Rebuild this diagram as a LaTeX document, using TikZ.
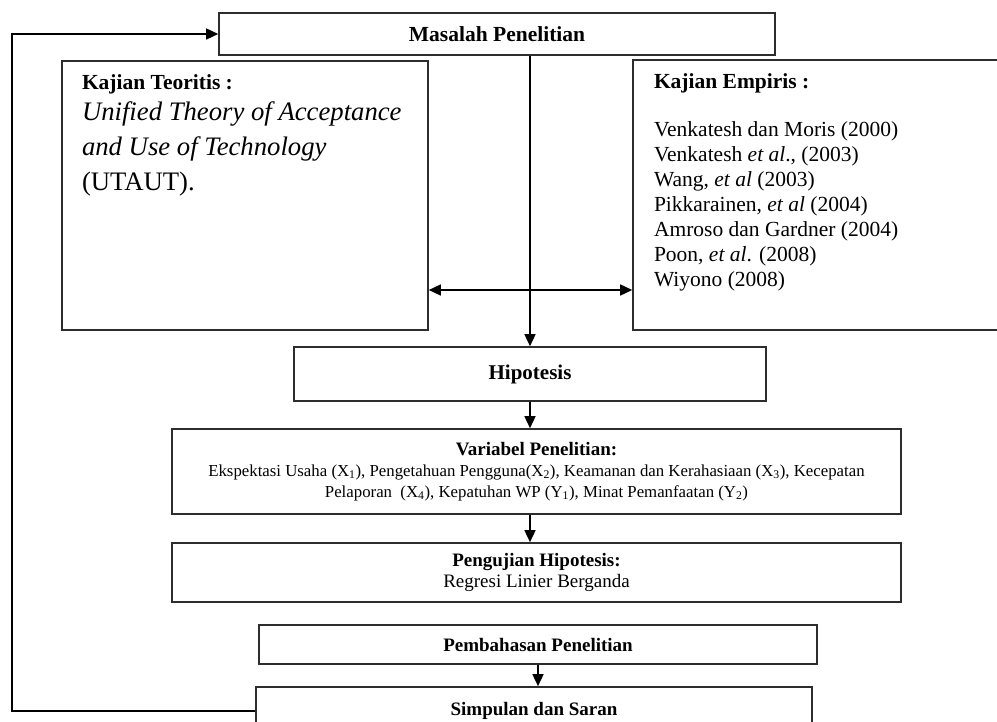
\documentclass[tikz,border=0pt]{standalone}
\usepackage{fontspec}
\setmainfont{Liberation Serif}
\usetikzlibrary{arrows.meta,positioning,calc}
\definecolor{fwline}{RGB}{45,45,45}

\begin{document}
\begin{tikzpicture}[x=1pt,y=-1pt,
    box/.style={draw=fwline,line width=1.6pt,inner sep=0pt,align=center},
    conn/.style={-{Triangle[length=12pt,width=11pt]},line width=1.5pt,color=black},
    both/.style={{Triangle[length=12pt,width=11pt]}-{Triangle[length=12pt,width=11pt]},
                 line width=1.5pt,color=black}]
  \path[use as bounding box,clip] (0,0) rectangle (997,722);
  \node[box,minimum width=556pt,minimum height=42pt,
        font=\fontsize{21.5}{24}\selectfont\bfseries]
    (masalah) at (497,34) {Masalah Penelitian};
  \node[box,minimum width=366pt,minimum height=269pt] (teori) at (245,195.5)
    {\parbox[c][241pt][t]{326pt}{\raggedright
      \fontsize{21.5}{25}\selectfont\bfseries Kajian Teoritis :\par\vspace{-4pt}
      \fontsize{26.7}{35}\selectfont\mdseries\itshape Unified Theory of Acceptance\\
      and Use of Technology\\ \upshape (UTAUT).\par}};
  \node[box,minimum width=380pt,minimum height=270pt] (empiris) at (823,195)
    {\parbox[c][242pt][t]{338pt}{\raggedright
      \fontsize{21.5}{25}\selectfont\bfseries Kajian Empiris :\par\vspace{23pt}
      \mdseries Venkatesh dan Moris (2000)\\
      Venkatesh \textit{et al}., (2003)\\
      Wang, \textit{et al} (2003)\\
      Pikkarainen, \textit{et al} (2004)\\
      Amroso dan Gardner (2004)\\
      Poon, \textit{et al}. (2008)\\
      Wiyono (2008)\par}};
  \node[box,minimum width=472pt,minimum height=54pt,
        font=\fontsize{21}{24}\selectfont\bfseries]
    (hipotesis) at (530,374) {Hipotesis};
  \node[box,minimum width=729pt,minimum height=85pt,
        font=\fontsize{16.8}{21}\selectfont] (variabel) at (536.5,471.5)
    {{\fontsize{19}{21}\selectfont\bfseries Variabel Penelitian:}\\
     Ekspektasi Usaha (X\textsubscript{1}),
      Pengetahuan Pengguna(X\textsubscript{2}), Keamanan dan Kerahasiaan
      (X\textsubscript{3}), Kecepatan\\
     Pelaporan~~(X\textsubscript{4}), Kepatuhan WP
      (Y\textsubscript{1}), Minat Pemanfaatan (Y\textsubscript{2})};
  \node[box,minimum width=729pt,minimum height=59pt,
        font=\fontsize{19}{21}\selectfont] (pengujian) at (536.5,572.5)
    {\textbf{Pengujian Hipotesis:}\\ Regresi Linier Berganda};
  \node[box,minimum width=558pt,minimum height=39pt,
        font=\fontsize{19}{22}\selectfont\bfseries]
    (pembahasan) at (538,644.5) {Pembahasan Penelitian};
  \node[box,minimum width=556pt,minimum height=48pt,
        font=\fontsize{19}{22}\selectfont\bfseries]
    (simpulan) at (534,711) {Simpulan dan Saran};
  \coordinate (loopcorner) at (12,711);
  \draw[conn] (simpulan.west) -- (loopcorner) |- (masalah.west);
  \draw[conn] (masalah.south -| hipotesis.north) -- (hipotesis.north);
  \draw[both] ([yshift=-94.5pt]teori.east) -- ([yshift=-94.5pt]teori.east -| empiris.west);
  \draw[conn] (hipotesis.south) -- (hipotesis.south |- variabel.north);
  \draw[conn] (variabel.south -| hipotesis.south) -- (hipotesis.south |- pengujian.north);
  \draw[conn] (pembahasan.south) -- (pembahasan.south |- simpulan.north);
\end{tikzpicture}
\end{document}
